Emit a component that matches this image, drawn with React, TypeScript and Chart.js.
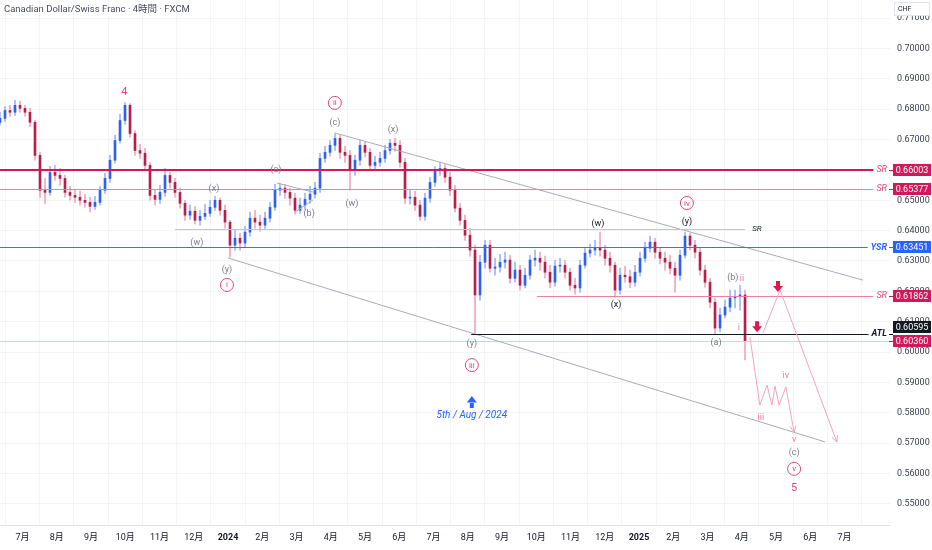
import { useEffect, useRef } from 'react';
import { Chart, registerables } from 'chart.js';

Chart.register(...registerables);

// x axis is in months, 0 = Jul 2023; candles are evenly spaced
const FIRST_T = -0.657;
const STEP_T = 0.146;
const firstOpen = 0.6757;

const closes = [
  0.6770, 0.6796, 0.6790, 0.6813, 0.6803, 0.6790, 0.6757, 0.6648, 0.6533, 0.6526,
  0.6592, 0.6582, 0.6572, 0.6526, 0.6516, 0.6510, 0.6500, 0.6493, 0.6480, 0.6493,
  0.6533, 0.6572, 0.6632, 0.6697, 0.6763, 0.6813, 0.6720, 0.6664, 0.6655, 0.6615,
  0.6516, 0.6503, 0.6526, 0.6582, 0.6559, 0.6526, 0.6490, 0.6451, 0.6464, 0.6434,
  0.6447, 0.6457, 0.6477, 0.6500, 0.6467, 0.6428, 0.6352, 0.6375, 0.6359, 0.6395,
  0.6441, 0.6428, 0.6418, 0.6441, 0.6477, 0.6533, 0.6540, 0.6526, 0.6507, 0.6467,
  0.6484, 0.6503, 0.6520, 0.6540, 0.6638, 0.6658, 0.6681, 0.6704, 0.6658, 0.6648,
  0.6599, 0.6632, 0.6681, 0.6658, 0.6615, 0.6625, 0.6638, 0.6664, 0.6688, 0.6681,
  0.6625, 0.6507, 0.6510, 0.6484, 0.6447, 0.6507, 0.6559, 0.6599, 0.6605, 0.6576,
  0.6533, 0.6474, 0.6434, 0.6385, 0.6336, 0.6188, 0.6296, 0.6352, 0.6276, 0.6280,
  0.6296, 0.6303, 0.6243, 0.6270, 0.6220, 0.6253, 0.6303, 0.6309, 0.6296, 0.6263,
  0.6230, 0.6283, 0.6286, 0.6263, 0.6220, 0.6211, 0.6286, 0.6326, 0.6336, 0.6342,
  0.6336, 0.6309, 0.6286, 0.6204, 0.6253, 0.6248, 0.6230, 0.6263, 0.6309, 0.6342,
  0.6362, 0.6329, 0.6309, 0.6296, 0.6276, 0.6253, 0.6319, 0.6382, 0.6352, 0.6329,
  0.6270, 0.6230, 0.6164, 0.6079, 0.6122, 0.6148, 0.6178, 0.6183, 0.6188, 0.6036,
];

const highs = [
  0.6790, 0.6809, 0.6813, 0.6829, 0.6826, 0.6813, 0.6803, 0.6763, 0.6658, 0.6572,
  0.6612, 0.6615, 0.6605, 0.6582, 0.6546, 0.6536, 0.6530, 0.6520, 0.6510, 0.6513,
  0.6546, 0.6589, 0.6648, 0.6714, 0.6783, 0.6822, 0.6819, 0.6730, 0.6684, 0.6671,
  0.6625, 0.6533, 0.6549, 0.6605, 0.6592, 0.6572, 0.6540, 0.6500, 0.6484, 0.6480,
  0.6467, 0.6487, 0.6500, 0.6513, 0.6507, 0.6484, 0.6434, 0.6401, 0.6391, 0.6414,
  0.6461, 0.6467, 0.6451, 0.6461, 0.6493, 0.6553, 0.6556, 0.6553, 0.6540, 0.6523,
  0.6507, 0.6523, 0.6546, 0.6559, 0.6655, 0.6678, 0.6697, 0.6720, 0.6714, 0.6678,
  0.6664, 0.6648, 0.6697, 0.6691, 0.6671, 0.6645, 0.6658, 0.6681, 0.6701, 0.6704,
  0.6697, 0.6638, 0.6533, 0.6530, 0.6500, 0.6523, 0.6576, 0.6612, 0.6625, 0.6618,
  0.6592, 0.6549, 0.6490, 0.6451, 0.6408, 0.6352, 0.6319, 0.6368, 0.6368, 0.6309,
  0.6322, 0.6329, 0.6319, 0.6296, 0.6286, 0.6276, 0.6319, 0.6336, 0.6329, 0.6316,
  0.6286, 0.6303, 0.6309, 0.6303, 0.6276, 0.6243, 0.6303, 0.6345, 0.6355, 0.6368,
  0.6395, 0.6352, 0.6329, 0.6296, 0.6276, 0.6283, 0.6270, 0.6286, 0.6329, 0.6362,
  0.6382, 0.6375, 0.6342, 0.6329, 0.6319, 0.6296, 0.6336, 0.6395, 0.6391, 0.6368,
  0.6342, 0.6286, 0.6243, 0.6178, 0.6145, 0.6171, 0.6204, 0.6204, 0.6220, 0.6204,
];

const lows = [
  0.6750, 0.6760, 0.6776, 0.6780, 0.6790, 0.6776, 0.6743, 0.6632, 0.6510, 0.6490,
  0.6516, 0.6566, 0.6549, 0.6510, 0.6500, 0.6493, 0.6484, 0.6477, 0.6461, 0.6470,
  0.6484, 0.6523, 0.6559, 0.6622, 0.6688, 0.6750, 0.6707, 0.6648, 0.6638, 0.6599,
  0.6500, 0.6484, 0.6490, 0.6513, 0.6540, 0.6510, 0.6474, 0.6434, 0.6437, 0.6421,
  0.6418, 0.6437, 0.6447, 0.6467, 0.6451, 0.6408, 0.6313, 0.6336, 0.6336, 0.6345,
  0.6382, 0.6408, 0.6398, 0.6405, 0.6428, 0.6467, 0.6516, 0.6507, 0.6484, 0.6454,
  0.6457, 0.6470, 0.6490, 0.6507, 0.6526, 0.6625, 0.6645, 0.6664, 0.6638, 0.6625,
  0.6533, 0.6582, 0.6615, 0.6642, 0.6599, 0.6599, 0.6612, 0.6625, 0.6652, 0.6661,
  0.6609, 0.6490, 0.6487, 0.6467, 0.6434, 0.6434, 0.6493, 0.6546, 0.6582, 0.6559,
  0.6516, 0.6461, 0.6418, 0.6368, 0.6316, 0.6062, 0.6171, 0.6276, 0.6263, 0.6253,
  0.6263, 0.6276, 0.6227, 0.6230, 0.6204, 0.6211, 0.6240, 0.6283, 0.6270, 0.6243,
  0.6211, 0.6217, 0.6263, 0.6243, 0.6204, 0.6191, 0.6197, 0.6276, 0.6313, 0.6319,
  0.6316, 0.6286, 0.6263, 0.6181, 0.6191, 0.6230, 0.6211, 0.6217, 0.6250, 0.6296,
  0.6329, 0.6309, 0.6290, 0.6270, 0.6257, 0.6197, 0.6237, 0.6309, 0.6336, 0.6309,
  0.6253, 0.6214, 0.6145, 0.6059, 0.6066, 0.6112, 0.6132, 0.6145, 0.6138, 0.5974,
];

const monthTicks = [
  '7月', '8月', '9月', '10月', '11月', '12月', '2024', '2月', '3月', '4月', '5月', '6月',
  '7月', '8月', '9月', '10月', '11月', '12月', '2025', '2月', '3月', '4月', '5月', '6月', '7月',
];

// horizontal levels drawn across to the price scale
const levelValues = [0.66003, 0.65377, 0.63451, 0.61862, 0.60595];
const levelTags = ['SR', 'SR', 'YSR', 'SR', 'ATL'];
const levelStarts = [-0.7, -0.7, -0.7, 15.02, 13.1];
const lastPrice = 0.6036;
const greySR = { value: 0.6405, from: 4.45, to: 21.1 };

// trend lines and projections as [month, price]
const channelUpper = [[9.12, 0.6722], [24.54, 0.6237]];
const channelLower = [[6.0, 0.6310], [23.43, 0.5704]];
const triangleUpper = [[7.43, 0.6557], [8.48, 0.6527]];
const triangleLower = [[7.96, 0.6461], [8.48, 0.6501]];
const projectionA = [[21.62, 0.6063], [22.12, 0.6204], [23.78, 0.5703]];
const projectionB = [
  [21.24, 0.6050], [21.53, 0.5825], [21.74, 0.5891], [21.88, 0.5825],
  [21.97, 0.5888], [22.09, 0.5825], [22.29, 0.5885], [22.53, 0.5736],
];

// wave labels: text, month, price, kind
const waveLabels: [string, number, number, string][] = [
  ['4', 2.97, 0.6857, 'big'],
  ['ii', 9.12, 0.6821, 'circle'],
  ['(c)', 9.12, 0.6754, 'grey'],
  ['(x)', 10.82, 0.6732, 'grey'],
  ['(a)', 7.40, 0.6600, 'grey'],
  ['(b)', 8.37, 0.6455, 'grey'],
  ['(w)', 9.62, 0.6488, 'grey'],
  ['(x)', 5.59, 0.6537, 'grey'],
  ['(w)', 5.09, 0.6359, 'grey'],
  ['(y)', 5.97, 0.6270, 'grey'],
  ['i', 5.97, 0.6221, 'circle'],
  ['(y)', 13.12, 0.6026, 'grey'],
  ['iii', 13.12, 0.5957, 'circle'],
  ['(w)', 16.80, 0.6422, 'dark'],
  ['iv', 19.40, 0.6491, 'circle'],
  ['(y)', 19.40, 0.6428, 'dark'],
  ['(x)', 17.33, 0.6155, 'dark'],
  ['(b)', 20.74, 0.6244, 'grey'],
  ['ii', 21.01, 0.6241, 'pink'],
  ['i', 20.92, 0.6079, 'pink'],
  ['(a)', 20.25, 0.6030, 'grey'],
  ['iii', 21.56, 0.5783, 'pink'],
  ['iv', 22.29, 0.5921, 'pink'],
  ['v', 22.53, 0.5710, 'pink'],
  ['(c)', 22.53, 0.5667, 'grey'],
  ['v', 22.53, 0.5615, 'circle'],
  ['5', 22.53, 0.5552, 'big'],
  ['5th / Aug / 2024', 13.12, 0.5792, 'blue'],
];

const sellArrows = [[22.06, 0.6214], [21.45, 0.6082]];
const buyArrow = [13.12, 0.5835];

const FONT = 'Roboto, "Noto Sans CJK JP", sans-serif';
const RED = '#e0457b';
const BOX_RED = '#d2185a';
const BLUE = '#2962ff';

const overlay = {
  id: 'overlay',
  afterDatasetsDraw(chart: any) {
    const { ctx, chartArea: a } = chart;
    const X = (t: number) => chart.scales.x.getPixelForValue(t);
    const Y = (p: number) => chart.scales.y.getPixelForValue(p);
    const crisp = (p: number) => Math.round(Y(p)) + 0.5;
    ctx.save();
    ctx.beginPath();
    ctx.rect(a.left, a.top, a.width, a.height);
    ctx.clip();

    const poly = (pts: number[][], color: string, width = 1) => {
      ctx.beginPath();
      pts.forEach(([t, p], i) => (i ? ctx.lineTo(X(t), Y(p)) : ctx.moveTo(X(t), Y(p))));
      ctx.strokeStyle = color;
      ctx.lineWidth = width;
      ctx.stroke();
    };
    const hline = (p: number, from: number, to: number, color: string, width = 1) => {
      const y = width === 2 ? Math.round(Y(p)) : crisp(p);
      ctx.beginPath();
      ctx.moveTo(from, y);
      ctx.lineTo(to, y);
      ctx.strokeStyle = color;
      ctx.lineWidth = width;
      ctx.stroke();
    };
    const arrowHead = (pts: number[][], color: string) => {
      const [t0, p0] = pts[pts.length - 2];
      const [t1, p1] = pts[pts.length - 1];
      const x1 = X(t1), y1 = Y(p1);
      const ang = Math.atan2(y1 - Y(p0), x1 - X(t0));
      ctx.beginPath();
      [-0.45, 0.45].forEach((d) => {
        ctx.moveTo(x1, y1);
        ctx.lineTo(x1 - 7 * Math.cos(ang + d), y1 - 7 * Math.sin(ang + d));
      });
      ctx.strokeStyle = color;
      ctx.stroke();
    };

    // last price line
    hline(lastPrice, a.left, a.right, '#f7c3d3');
    poly(channelUpper, '#a9acb5');
    poly(channelLower, '#a9acb5');
    poly(triangleUpper, '#a9acb5');
    poly(triangleLower, '#a9acb5');
    hline(greySR.value, X(greySR.from), X(greySR.to), '#c3c5cc');
    ctx.font = `italic 8px ${FONT}`;
    ctx.fillStyle = '#131722';
    ctx.textAlign = 'left';
    ctx.textBaseline = 'middle';
    ctx.fillText('SR', X(greySR.to) + 7, Y(greySR.value));

    levelValues.forEach((v, i) => {
      const tag = levelTags[i];
      const color = tag === 'YSR' ? '#3d6ef7' : tag === 'ATL' ? '#131722' : i === 0 ? BOX_RED : '#ec7fa2';
      ctx.font = `italic ${tag === 'SR' ? '' : 'bold '}9px ${FONT}`;
      const w = ctx.measureText(tag).width;
      hline(v, X(levelStarts[i]), a.right - 6 - w, color, i === 0 ? 2 : 1);
      ctx.fillStyle = tag === 'SR' ? RED : tag === 'YSR' ? BLUE : color;
      ctx.textAlign = 'right';
      ctx.fillText(tag, a.right - 3, Y(v));
    });

    poly(projectionA, '#f4a3bd');
    arrowHead(projectionA, '#f4a3bd');
    poly(projectionB, '#f4a3bd');
    arrowHead(projectionB, '#f4a3bd');

    ctx.textAlign = 'center';
    ctx.textBaseline = 'middle';
    waveLabels.forEach(([text, t, p, kind]) => {
      const x = X(t), y = Y(p);
      if (kind === 'circle') {
        ctx.beginPath();
        ctx.arc(x, y, 6.5, 0, Math.PI * 2);
        ctx.strokeStyle = RED;
        ctx.lineWidth = 1;
        ctx.stroke();
        ctx.font = `8px ${FONT}`;
        ctx.fillStyle = RED;
        ctx.fillText(text, x, y + 0.5);
        return;
      }
      if (kind === 'big') {
        ctx.font = `11px ${FONT}`;
        ctx.fillStyle = RED;
      } else if (kind === 'blue') {
        ctx.font = `italic 10px ${FONT}`;
        ctx.fillStyle = BLUE;
      } else if (kind === 'pink') {
        ctx.font = `9px ${FONT}`;
        ctx.fillStyle = '#ef7aa0';
      } else {
        ctx.font = `9px ${FONT}`;
        ctx.fillStyle = kind === 'dark' ? '#131722' : '#787b86';
      }
      ctx.fillText(text, x, y);
    });

    // red sell arrows
    ctx.fillStyle = '#e3174f';
    sellArrows.forEach(([t, p]) => {
      const x = X(t), y = Y(p);
      ctx.beginPath();
      ctx.rect(x - 2, y - 6, 4, 5);
      ctx.moveTo(x - 5, y - 1);
      ctx.lineTo(x + 5, y - 1);
      ctx.lineTo(x, y + 5);
      ctx.closePath();
      ctx.fill();
    });
    // blue buy arrow
    {
      const x = X(buyArrow[0]), y = Y(buyArrow[1]);
      ctx.fillStyle = BLUE;
      ctx.beginPath();
      ctx.rect(x - 2, y, 4, 6);
      ctx.moveTo(x - 5, y + 0.5);
      ctx.lineTo(x + 5, y + 0.5);
      ctx.lineTo(x, y - 6);
      ctx.closePath();
      ctx.fill();
    }
    ctx.restore();
  },
  afterDraw(chart: any) {
    const { ctx, chartArea: a } = chart;
    const Y = (p: number) => chart.scales.y.getPixelForValue(p);
    ctx.save();
    const box = (value: number, bg: string, shift: number) => {
      const y = Y(value) + shift;
      ctx.fillStyle = bg;
      ctx.fillRect(a.right + 3, Math.round(y - 6), 38, 12);
      ctx.fillStyle = '#ffffff';
      ctx.font = `9px ${FONT}`;
      ctx.textAlign = 'center';
      ctx.textBaseline = 'middle';
      ctx.fillText(value.toFixed(5), a.right + 22, Math.round(y) + 0.5);
      ctx.beginPath();
      ctx.moveTo(a.right - 1, Math.round(Y(value)) + 0.5);
      ctx.lineTo(a.right + 3, Math.round(Y(value)) + 0.5);
      ctx.strokeStyle = bg;
      ctx.lineWidth = 1;
      ctx.stroke();
    };
    levelValues.forEach((v, i) => {
      const tag = levelTags[i];
      box(v, tag === 'YSR' ? BLUE : tag === 'ATL' ? '#131722' : BOX_RED, tag === 'ATL' ? -7 : 0);
    });
    box(lastPrice, BOX_RED, 0);

    // title
    ctx.font = `9.5px ${FONT}`;
    ctx.fillStyle = '#4a4e5a';
    ctx.textAlign = 'left';
    ctx.textBaseline = 'middle';
    ctx.fillText('Canadian Dollar/Swiss Franc · 4時間 · FXCM', 4, 10);

    // currency box
    ctx.fillStyle = '#ffffff';
    ctx.fillRect(a.right + 4.5, 2.5, 35, 13);
    ctx.strokeStyle = '#e0e3eb';
    ctx.strokeRect(a.right + 4.5, 2.5, 35, 13);
    ctx.fillStyle = '#131722';
    ctx.font = `7px ${FONT}`;
    ctx.fillText('CHF', a.right + 8, 9);
    ctx.restore();
  },
};

export default function App() {
  const canvasRef = useRef<HTMLCanvasElement>(null);

  useEffect(() => {
    document.body.style.margin = '0';
    if (!canvasRef.current) return;
    Chart.defaults.font.family = FONT;

    const opens = closes.map((c, i) => (i === 0 ? firstOpen : closes[i - 1]));
    const xs = closes.map((_, i) => FIRST_T + i * STEP_T);
    const up = closes.map((c, i) => c >= opens[i]);

    const chart = new Chart(canvasRef.current, {
      type: 'bar',
      data: {
        datasets: [
          {
            label: 'body',
            data: xs.map((x, i) => ({ x, y: [Math.min(opens[i], closes[i]), Math.max(opens[i], closes[i])] })) as any,
            backgroundColor: up.map((u) => (u ? '#2f62ec' : '#b51f4c')),
            barThickness: 2,
            minBarLength: 1,
            grouped: false,
            order: 0,
          },
          {
            label: 'wick',
            data: xs.map((x, i) => ({ x, y: [lows[i], highs[i]] })) as any,
            backgroundColor: up.map((u) => (u ? '#9fb5f5' : '#eea7bc')),
            barThickness: 1,
            grouped: false,
            order: 1,
          },
        ],
      },
      options: {
        responsive: false,
        animation: false,
        layout: { padding: 0 },
        plugins: { legend: { display: false }, tooltip: { enabled: false } },
        scales: {
          x: {
            type: 'linear',
            min: -0.657,
            max: 25.33,
            offset: false,
            afterBuildTicks: (s: any) => {
              s.ticks = monthTicks.map((_, i) => ({ value: i }));
            },
            afterFit: (s: any) => {
              s.height = 25;
              s.paddingLeft = 0;
              s.paddingRight = 0;
            },
            ticks: {
              autoSkip: false,
              maxRotation: 0,
              padding: 7,
              color: '#131722',
              callback: (v: any) => monthTicks[v] ?? '',
              font: (c: any) => ({
                size: 9,
                weight: String(monthTicks[c.index] ?? '').startsWith('20') ? 'bold' : 'normal',
              }),
            },
            grid: { color: '#f3f4f7', drawTicks: false },
            border: { color: '#e0e3eb' },
          },
          y: {
            position: 'right',
            min: 0.543,
            max: 0.716,
            afterFit: (s: any) => {
              s.width = 42;
              s.paddingTop = 0;
              s.paddingBottom = 0;
            },
            ticks: {
              stepSize: 0.01,
              includeBounds: false,
              padding: 7,
              color: '#3a3e4a',
              font: { size: 9 },
              callback: (v: any) => Number(v).toFixed(5),
            },
            grid: { color: '#f3f4f7', drawTicks: false },
            border: { display: false },
          },
        },
      },
      plugins: [overlay],
    });

    return () => chart.destroy();
  }, []);

  return (
    <div style={{ width: 932, height: 550 }}>
      <canvas ref={canvasRef} width={932} height={550} style={{ display: 'block' }} />
    </div>
  );
}
